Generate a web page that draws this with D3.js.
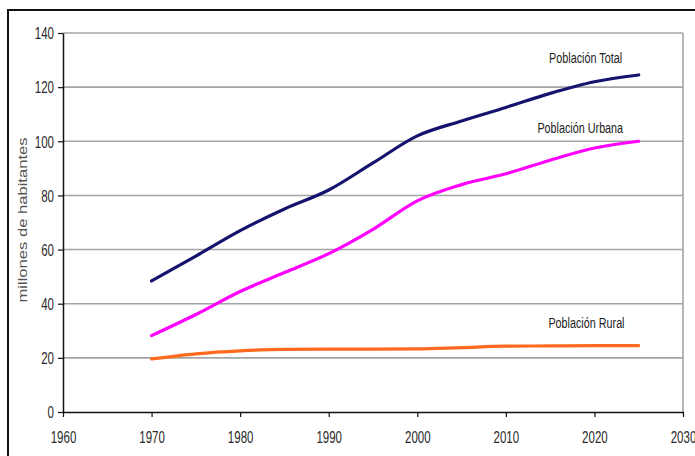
<!DOCTYPE html>
<html>
<head>
<meta charset="utf-8">
<script src="https://cdn.jsdelivr.net/npm/d3@7"></script>
<style>
  html, body { margin: 0; padding: 0; background: #fff; }
  svg { display: block; font-family: "Liberation Sans", Arial, sans-serif; }
</style>
</head>
<body>
<svg id="chart" width="695" height="456"></svg>
<script>
// Years sampled every five years
const years = [1970, 1975, 1980, 1985, 1990, 1995, 2000, 2005, 2010, 2015, 2020, 2025];

// Population, millions of inhabitants
const total  = [48.4, 57.6, 67.0, 75.0, 82.0, 92.0, 102.0, 107.5, 112.5, 117.7, 122.0, 124.5];
const urbana = [28.2, 36.0, 44.5, 51.5, 58.5, 67.5, 78.0, 84.0, 88.0, 93.0, 97.5, 100.0];
const rural  = [19.6, 21.5, 22.6, 23.1, 23.2, 23.2, 23.3, 23.8, 24.3, 24.4, 24.5, 24.5];

const seriesNames  = ["Población Total", "Población Urbana", "Población Rural"];
const seriesColors = ["#14136e", "#ff00ff", "#ff6a1f"];

// Series label anchors in data space (year, value)
const labelYears  = [2019.0, 2018.4, 2019.1];
const labelValues = [128.9, 103.1, 31.0];

const xTicks = [1960, 1970, 1980, 1990, 2000, 2010, 2020, 2030];
const yTicks = [0, 20, 40, 60, 80, 100, 120, 140];
const yTitle = "millones de habitantes";

const series = [total, urbana, rural];

const svg = d3.select("#chart");
const squeeze = 0.72; // narrow letterforms

// Outer frame
svg.append("path")
  .attr("d", "M8,460 L8,10 L700,10")
  .attr("fill", "none")
  .attr("stroke", "#111")
  .attr("stroke-width", 2);

const x = d3.scaleLinear().domain([1960, 2030]).range([63, 683]);
const y = d3.scaleLinear().domain([0, 140]).range([412, 33]);

// Horizontal gridlines
svg.append("g")
  .selectAll("line")
  .data(yTicks.filter(v => v > 0))
  .join("line")
  .attr("x1", x(1960)).attr("x2", x(2030))
  .attr("y1", d => y(d)).attr("y2", d => y(d))
  .attr("stroke", "#a4a4a4")
  .attr("stroke-width", 1.6);

// Right edge of the plot area
svg.append("line")
  .attr("x1", x(2030)).attr("x2", x(2030))
  .attr("y1", y(140)).attr("y2", y(0))
  .attr("stroke", "#a4a4a4")
  .attr("stroke-width", 1.6);

// Y axis
const yAxis = svg.append("g")
  .attr("transform", `translate(${x(1960)},0)`)
  .call(d3.axisLeft(y).tickValues(yTicks).tickSize(5).tickSizeOuter(0).tickFormat(d3.format("d")));
yAxis.select(".domain").attr("stroke", "#111").attr("stroke-width", 1.5);
yAxis.selectAll(".tick line").attr("stroke", "#111").attr("stroke-width", 1.2);
yAxis.selectAll(".tick text")
  .attr("x", 0).attr("dy", "0.36em")
  .attr("transform", `translate(-9,0) scale(${squeeze},1)`)
  .attr("font-size", 16)
  .attr("fill", "#2a2a2a")
  .attr("font-family", "Liberation Sans, Arial, sans-serif");

// X axis
const xAxis = svg.append("g")
  .attr("transform", `translate(0,${y(0)})`)
  .call(d3.axisBottom(x).tickValues(xTicks).tickSize(5).tickSizeOuter(0).tickFormat(d3.format("d")));
xAxis.select(".domain").attr("stroke", "#111").attr("stroke-width", 1.5);
xAxis.selectAll(".tick line").attr("stroke", "#111").attr("stroke-width", 1.2);
xAxis.selectAll(".tick text")
  .attr("y", 0).attr("dy", 0)
  .attr("transform", `translate(0,31) scale(${squeeze},1)`)
  .attr("font-size", 16)
  .attr("fill", "#2a2a2a")
  .attr("font-family", "Liberation Sans, Arial, sans-serif");

// Y axis title
svg.append("text")
  .attr("transform", `translate(27,220) scale(${squeeze},1) rotate(-90)`)
  .attr("text-anchor", "middle")
  .attr("font-size", 16.6)
  .attr("fill", "#555")
  .text(yTitle);

// Population lines
const line = d3.line()
  .x((d, i) => x(years[i]))
  .y(d => y(d))
  .curve(d3.curveMonotoneX);

svg.append("g")
  .selectAll("path")
  .data(series)
  .join("path")
  .attr("d", d => line(d))
  .attr("fill", "none")
  .attr("stroke", (d, i) => seriesColors[i])
  .attr("stroke-width", 3.2)
  .attr("stroke-linecap", "round")
  .attr("stroke-linejoin", "round");

// Series labels
svg.append("g")
  .selectAll("text")
  .data(seriesNames)
  .join("text")
  .attr("transform", (d, i) => `translate(${x(labelYears[i])},${y(labelValues[i])}) scale(${squeeze},1)`)
  .attr("text-anchor", "middle")
  .attr("font-size", 15)
  .attr("fill", "#222")
  .text(d => d);
</script>
</body>
</html>
